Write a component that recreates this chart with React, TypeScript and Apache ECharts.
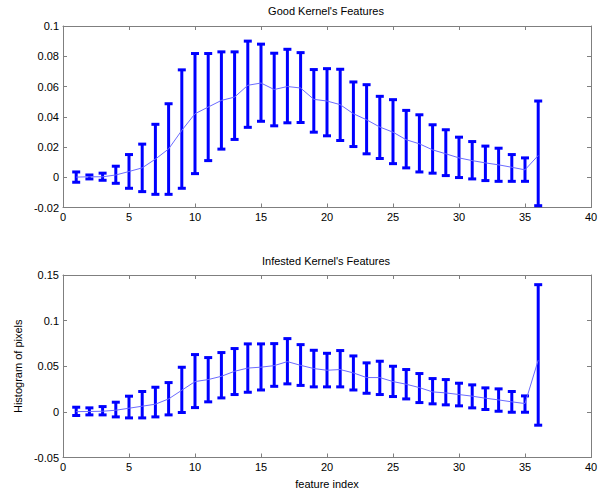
import React, { useEffect, useRef } from "react";
import * as echarts from "echarts";

const featureIndex = [1,2,3,4,5,6,7,8,9,10,11,12,13,14,15,16,17,18,19,20,21,22,23,24,25,26,27,28,29,30,31,32,33,34,35,36];

const goodMean = [0.0001,0.0003,0.0003,0.0015,0.0038,0.0062,0.012,0.0187,0.031,0.042,0.0464,0.0508,0.053,0.0608,0.0623,0.058,0.060,0.059,0.0515,0.0504,0.048,0.042,0.038,0.0332,0.0298,0.0248,0.0221,0.0181,0.0155,0.0128,0.011,0.0095,0.0082,0.0066,0.0049,0.0144];
const goodHigh = [0.0035,0.0015,0.0027,0.0073,0.015,0.0219,0.035,0.0486,0.071,0.0818,0.0818,0.0829,0.0829,0.09,0.088,0.082,0.0846,0.0824,0.0712,0.0718,0.0714,0.063,0.0612,0.0535,0.0513,0.0442,0.0413,0.0347,0.0314,0.0265,0.0236,0.0206,0.0192,0.015,0.0128,0.0504];
const goodLow = [-0.0033,-0.0011,-0.002,-0.004,-0.0073,-0.0095,-0.0113,-0.0113,-0.0073,0.0024,0.011,0.0186,0.025,0.033,0.037,0.034,0.036,0.0362,0.0298,0.0274,0.0243,0.0203,0.0155,0.0124,0.009,0.0062,0.0035,0.0027,0.0011,-0.0002,-0.0011,-0.0022,-0.0027,-0.0027,-0.0027,-0.0188];

const infMean = [0.0003,0.0004,0.0007,0.0018,0.004,0.0062,0.0084,0.0142,0.0237,0.0332,0.0354,0.039,0.0445,0.048,0.049,0.0507,0.0551,0.051,0.0475,0.0456,0.0464,0.0427,0.0376,0.0376,0.0332,0.0303,0.0266,0.0219,0.0208,0.019,0.0172,0.015,0.0131,0.011,0.0091,0.0566];
const infHigh = [0.0051,0.0044,0.0058,0.0106,0.0172,0.0223,0.027,0.0321,0.0489,0.0628,0.0595,0.065,0.0694,0.0745,0.0745,0.0748,0.0803,0.0737,0.0675,0.0642,0.0672,0.0613,0.0537,0.0555,0.05,0.0464,0.042,0.0365,0.0354,0.0314,0.0296,0.0263,0.0252,0.0223,0.0175,0.1394];
const infLow = [-0.004,-0.0033,-0.0033,-0.0055,-0.0066,-0.0066,-0.0055,-0.0033,-0.0007,0.0047,0.011,0.0153,0.019,0.0215,0.024,0.028,0.0307,0.029,0.0274,0.0274,0.0274,0.024,0.0204,0.019,0.0168,0.0142,0.0102,0.0088,0.0077,0.0066,0.0044,0.0026,0.0007,-0.0004,-0.0004,-0.0146];

const xTicks = { min: 0, max: 40, interval: 5 };
const topY = { min: -0.02, max: 0.1, interval: 0.02 };
const botY = { min: -0.05, max: 0.15, interval: 0.05 };

const FONT = "Liberation Sans, Arial, sans-serif";
const AXIS_COLOR = "#7f7f7f";
const BAR_COLOR = "#0000ff";
const LINE_COLOR = "#6b6bff";

function renderErrorBar(params: any, api: any) {
  const x = api.value(0);
  const lo = api.coord([x, api.value(1)]);
  const hi = api.coord([x, api.value(2)]);
  const hw = 4;
  const style = { stroke: BAR_COLOR, lineWidth: 3 };
  return {
    type: "group",
    children: [
      { type: "line", shape: { x1: lo[0], y1: lo[1], x2: hi[0], y2: hi[1] }, style },
      { type: "line", shape: { x1: lo[0] - hw, y1: lo[1], x2: lo[0] + hw, y2: lo[1] }, style },
      { type: "line", shape: { x1: hi[0] - hw, y1: hi[1], x2: hi[0] + hw, y2: hi[1] }, style },
    ],
  };
}

function mainX(gridIndex: number, name?: string) {
  return {
    type: "value",
    gridIndex,
    position: "bottom",
    ...xTicks,
    name: name || "",
    nameLocation: "middle",
    nameGap: 21,
    nameTextStyle: { color: "#000", fontFamily: FONT, fontSize: 11 },
    axisLine: { show: true, onZero: false, lineStyle: { color: AXIS_COLOR, width: 1 } },
    axisTick: { show: true, inside: true, length: 4, lineStyle: { color: AXIS_COLOR } },
    axisLabel: { show: true, margin: 4, color: "#000", fontFamily: FONT, fontSize: 11, showMinLabel: true, showMaxLabel: true },
    splitLine: { show: false },
  };
}
function topX(gridIndex: number) {
  return {
    type: "value",
    gridIndex,
    position: "top",
    ...xTicks,
    axisLine: { show: true, onZero: false, lineStyle: { color: AXIS_COLOR, width: 1 } },
    axisTick: { show: true, inside: true, length: 4, lineStyle: { color: AXIS_COLOR } },
    axisLabel: { show: false },
    splitLine: { show: false },
  };
}
function leftY(gridIndex: number, range: any, name?: string) {
  return {
    type: "value",
    gridIndex,
    position: "left",
    ...range,
    name: name || "",
    nameLocation: "middle",
    nameGap: 37,
    nameTextStyle: { color: "#000", fontFamily: FONT, fontSize: 11 },
    axisLine: { show: true, onZero: false, lineStyle: { color: AXIS_COLOR, width: 1 } },
    axisTick: { show: true, inside: true, length: 4, lineStyle: { color: AXIS_COLOR } },
    axisLabel: { show: true, margin: 4, color: "#000", fontFamily: FONT, fontSize: 11, showMinLabel: true, showMaxLabel: true },
    splitLine: { show: false },
  };
}
function rightY(gridIndex: number, range: any) {
  return {
    type: "value",
    gridIndex,
    position: "right",
    ...range,
    axisLine: { show: true, onZero: false, lineStyle: { color: AXIS_COLOR, width: 1 } },
    axisTick: { show: true, inside: true, length: 4, lineStyle: { color: AXIS_COLOR } },
    axisLabel: { show: false },
    splitLine: { show: false },
  };
}

export default function App() {
  const ref = useRef<HTMLDivElement>(null);
  useEffect(() => {
    if (!ref.current) return;
    const chart = echarts.init(ref.current, null, { renderer: "svg" });
    const goodBars = featureIndex.map((x, i) => [x, goodLow[i], goodHigh[i]]);
    const infBars = featureIndex.map((x, i) => [x, infLow[i], infHigh[i]]);
    const goodLine = featureIndex.map((x, i) => [x, goodMean[i]]);
    const infLine = featureIndex.map((x, i) => [x, infMean[i]]);
    chart.setOption({
      animation: false,
      backgroundColor: "#fff",
      grid: [
        { left: 63, top: 26, width: 528, height: 181.5 },
        { left: 63, top: 275, width: 528, height: 182.5 },
      ],
      xAxis: [mainX(0), topX(0), mainX(1, "feature index"), topX(1)],
      yAxis: [leftY(0, topY), rightY(0, topY), leftY(1, botY, "Histogram of pixels"), rightY(1, botY)],
      graphic: [
        { type: "text", x: 326, y: 11, style: { text: "Good Kernel's Features", fill: "#000", font: `11px ${FONT}`, textAlign: "center", textVerticalAlign: "middle" } },
        { type: "text", x: 326, y: 261, style: { text: "Infested Kernel's Features", fill: "#000", font: `11px ${FONT}`, textAlign: "center", textVerticalAlign: "middle" } },
      ],
      series: [
        { type: "line", xAxisIndex: 0, yAxisIndex: 0, data: goodLine, symbol: "none", lineStyle: { color: LINE_COLOR, width: 1 }, z: 3 },
        { type: "custom", xAxisIndex: 0, yAxisIndex: 0, data: goodBars, renderItem: renderErrorBar, z: 2 },
        { type: "line", xAxisIndex: 2, yAxisIndex: 2, data: infLine, symbol: "none", lineStyle: { color: LINE_COLOR, width: 1 }, z: 3 },
        { type: "custom", xAxisIndex: 2, yAxisIndex: 2, data: infBars, renderItem: renderErrorBar, z: 2 },
      ],
    });
    return () => chart.dispose();
  }, []);
  return <div ref={ref} style={{ position: "fixed", left: 0, top: 0, width: 607, height: 493, background: "#fff" }} />;
}
